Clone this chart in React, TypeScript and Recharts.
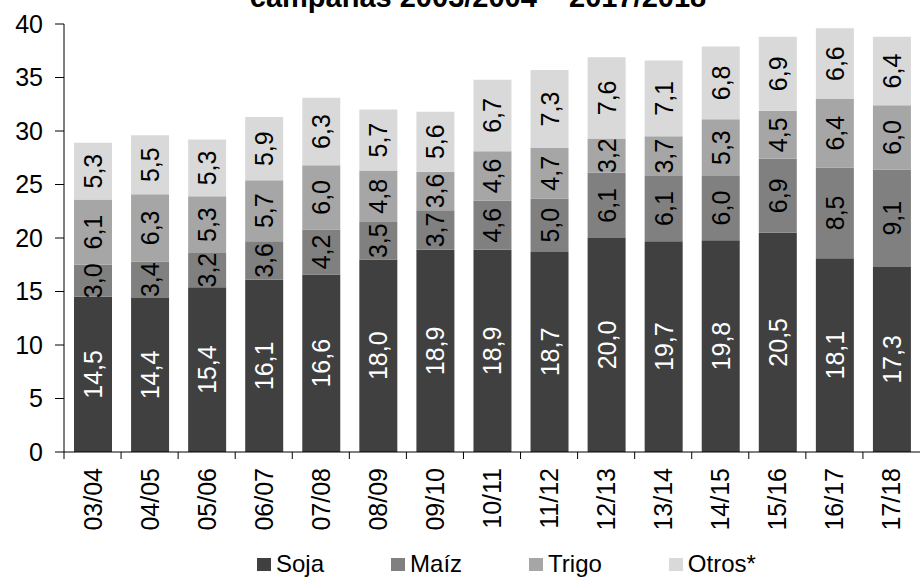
import { BarChart, Bar, XAxis, YAxis, Legend, LabelList } from "recharts";

// Campañas agrícolas
const campanas = [
  "03/04", "04/05", "05/06", "06/07", "07/08", "08/09", "09/10", "10/11",
  "11/12", "12/13", "13/14", "14/15", "15/16", "16/17", "17/18",
];

// Millones de hectáreas por cultivo
const soja = [14.5, 14.4, 15.4, 16.1, 16.6, 18.0, 18.9, 18.9, 18.7, 20.0, 19.7, 19.8, 20.5, 18.1, 17.3];
const maiz = [3.0, 3.4, 3.2, 3.6, 4.2, 3.5, 3.7, 4.6, 5.0, 6.1, 6.1, 6.0, 6.9, 8.5, 9.1];
const trigo = [6.1, 6.3, 5.3, 5.7, 6.0, 4.8, 3.6, 4.6, 4.7, 3.2, 3.7, 5.3, 4.5, 6.4, 6.0];
const otros = [5.3, 5.5, 5.3, 5.9, 6.3, 5.7, 5.6, 6.7, 7.3, 7.6, 7.1, 6.8, 6.9, 6.6, 6.4];

const yTicks = [0, 5, 10, 15, 20, 25, 30, 35, 40];

const series = [
  { key: "soja", name: "Soja", color: "#404040", text: "#ffffff" },
  { key: "maiz", name: "Maíz", color: "#808080", text: "#000000" },
  { key: "trigo", name: "Trigo", color: "#a6a6a6", text: "#000000" },
  { key: "otros", name: "Otros*", color: "#d9d9d9", text: "#000000" },
];

const data = campanas.map((campana, i) => ({
  campana,
  soja: soja[i],
  maiz: maiz[i],
  trigo: trigo[i],
  otros: otros[i],
}));

const W = 920;
const H = 577;
const AXIS_X = 64;
const BAND = (W - AXIS_X) / campanas.length;
const FONT = '"Liberation Sans", Arial, Helvetica, sans-serif';

const fmt = (v: number) => v.toFixed(1).replace(".", ",");

// valor centrado y girado dentro de cada segmento
const segmentLabel = (fill: string) => (props: any) => {
  const vb = props.viewBox || {};
  const x = Number(props.x ?? vb.x);
  const y = Number(props.y ?? vb.y);
  const w = Number(props.width ?? vb.width);
  const h = Number(props.height ?? vb.height);
  const cx = x + w / 2;
  const cy = y + h / 2;
  return (
    <text
      x={cx}
      y={cy}
      dy="0.36em"
      textAnchor="middle"
      transform={`rotate(-90 ${cx} ${cy})`}
      fill={fill}
      fontSize={25}
      fontFamily={FONT}
    >
      {fmt(Number(props.value))}
    </text>
  );
};

// marca entre categorías + etiqueta vertical
const CampanaTick = ({ x, y, payload }: any) => {
  const bx = x - BAND / 2;
  const ty = y + 16;
  return (
    <g>
      <line x1={bx} y1={y} x2={bx} y2={y + 7} stroke="#000" strokeWidth={1} />
      <text
        x={x}
        y={ty}
        dy="0.36em"
        textAnchor="end"
        transform={`rotate(-90 ${x} ${ty})`}
        fill="#000"
        fontSize={25}
        fontFamily={FONT}
      >
        {payload.value}
      </text>
    </g>
  );
};

const LegendContent = () => (
  <div style={{ display: "flex", alignItems: "center", gap: 67, fontFamily: FONT, fontSize: 24, color: "#000" }}>
    {series.map((s) => (
      <div key={s.key} style={{ display: "flex", alignItems: "center" }}>
        <span style={{ display: "inline-block", width: 14, height: 13, background: s.color, marginRight: 5 }} />
        <span style={{ lineHeight: "26px" }}>{s.name}</span>
      </div>
    ))}
  </div>
);

export default function App() {
  return (
    <div style={{ position: "absolute", left: 0, top: 0, width: W, height: H, background: "#fff" }}>
      <BarChart
        width={W}
        height={H}
        data={data}
        margin={{ top: 24, right: 0, bottom: 0, left: 0 }}
        barSize={38}
      >
        <text
          x={478}
          y={7}
          textAnchor="middle"
          fontSize={29}
          fontWeight="bold"
          fontFamily={FONT}
          fill="#000"
        >
          campañas 2003/2004 – 2017/2018
        </text>
        <XAxis
          dataKey="campana"
          height={125}
          interval={0}
          tickSize={0}
          tickMargin={0}
          stroke="#000"
          tick={<CampanaTick />}
        />
        <YAxis
          width={AXIS_X}
          domain={[0, 40]}
          ticks={yTicks}
          interval={0}
          tickSize={9}
          tickMargin={12}
          stroke="#000"
          tick={{ fill: "#000", fontSize: 25, fontFamily: FONT }}
        />
        <Legend
          layout="horizontal"
          verticalAlign="middle"
          align="center"
          wrapperStyle={{ top: 551, left: 257, width: "auto" }}
          content={<LegendContent />}
        />
        {series.map((s) => (
          <Bar key={s.key} dataKey={s.key} name={s.name} stackId="a" fill={s.color} isAnimationActive={false}>
            <LabelList dataKey={s.key} content={segmentLabel(s.text)} />
          </Bar>
        ))}
      </BarChart>
    </div>
  );
}
